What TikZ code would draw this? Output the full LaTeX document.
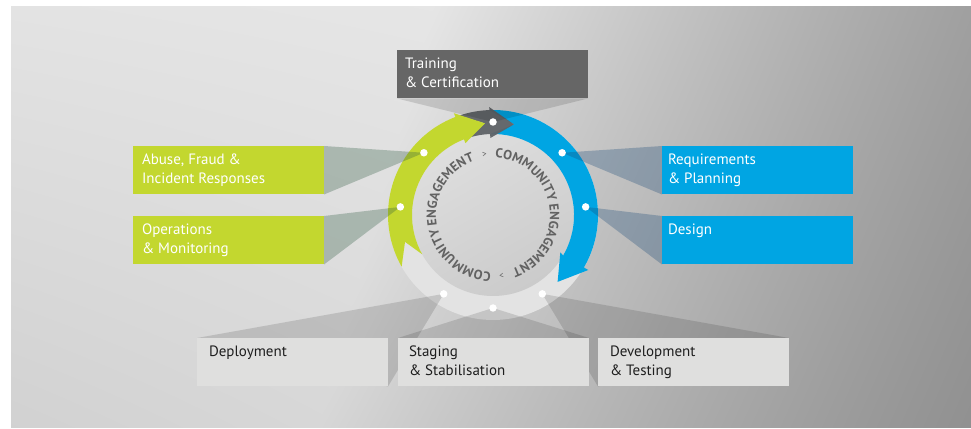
\documentclass[tikz,border=0pt]{standalone}
\usepackage{fontspec}
\setmainfont{PT Sans}
\usetikzlibrary{decorations.text,calc}
\pgfdeclarelayer{back}
\pgfdeclarelayer{mid}
\pgfsetlayers{back,mid,main}
\definecolor{trainc}{HTML}{666666}
\definecolor{greenc}{HTML}{C3D72F}
\definecolor{bluec}{HTML}{00A5E3}
\definecolor{lightbox}{HTML}{DFDFDE}
\definecolor{arrowgray}{HTML}{5F6367}
\definecolor{ringc}{HTML}{E3E3E3}
\definecolor{discA}{HTML}{DEDEDE}
\definecolor{discB}{HTML}{CBCBCB}
\definecolor{circtext}{HTML}{626262}
\definecolor{darktext}{HTML}{1E1E1E}
\definecolor{wgreenc}{RGB}{46,90,64}
\definecolor{wbluec}{RGB}{26,74,120}
\pgfdeclarefunctionalshading{bgfun}{\pgfpointorigin}{\pgfpoint{100bp}{100bp}}{}{
  100 div
  exch 100 div exch
  1 exch sub
  2 copy 0.12 mul add
  0.5 sub 2 mul
  dup 0 lt {pop 0} if
  dup 1 gt {pop 1} if
  1 exch sub dup sqrt mul
  1 exch sub
  0.41 mul 0.925 exch sub
  3 1 roll
  exch 1 exch sub mul 0.2 mul 1 exch sub
  mul
  dup dup
}
\newcommand\circfnt{\fontsize{13.2pt}{14pt}\selectfont\bfseries}
\begin{document}
\begin{tikzpicture}[x=1pt,y=1pt,
  box/.style={rectangle, inner sep=0pt, outer sep=0pt, minimum width=191pt, minimum height=48.5pt, anchor=north west},
  boxtext/.style={inner sep=0pt, outer sep=0pt, anchor=base west, align=left, font=\fontsize{15pt}{19pt}\selectfont},
  dot/.style={circle, fill=white, inner sep=0pt, minimum size=7.5pt},
  wgreen/.style={fill=wgreenc, fill opacity=0.3},
  wblue/.style={fill=wbluec, fill opacity=0.3},
  wgray/.style={fill=black, fill opacity=0.13},
  ringtext/.style={decorate, decoration={text along path, text align={fit to path}, text color=circtext}},
  chev/.style={text=circtext, font=\fontsize{9pt}{10pt}\selectfont, inner sep=0pt}
]
\useasboundingbox (0,0) rectangle (971,428);
\coordinate (C) at (493,213);
\begin{pgfonlayer}{back}
  \fill[white] (0,0) rectangle (971,428);
  \shade[shading=bgfun] (11,1) rectangle (971,421);
  \fill[ringc] (C) circle[radius=105pt];
  \shade[top color=discA, bottom color=discB, shading angle=30] (C) circle[radius=81pt];
  \begin{scope}[shift={(C)}]
    % blue arrow
    \fill[bluec] (92:105pt) arc[start angle=92, end angle=-30, radius=105pt]
      -- (-30:110pt) -- (-46:93pt) -- (-29:77pt) -- (-30:81pt)
      arc[start angle=-30, end angle=92, radius=81pt] -- (77:93pt) -- cycle;
    % gray arrow
    \fill[arrowgray, fill opacity=0.95] (109:105pt) arc[start angle=109, end angle=92, radius=105pt]
      -- (92:108pt) -- (77:93pt) -- (92:77pt) -- (92:81pt)
      arc[start angle=92, end angle=109, radius=81pt] -- (95:92pt) -- cycle;
    % green arrow
    \fill[greenc] (209.5:105pt) -- (197:92pt) -- (209:81pt)
      arc[start angle=209, end angle=111, radius=81pt]
      -- (111:77pt) -- (95:92pt) -- (111:109pt) -- (111:105pt)
      arc[start angle=111, end angle=209.5, radius=105pt] -- cycle;
    % ring text
    \path[ringtext, decoration={text={|\circfnt|COMMUNITY ENGAGEMENT}}]
      (88:57pt) arc[start angle=88, end angle=-71, radius=57pt];
    \path[ringtext, decoration={text={|\circfnt|COMMUNITY ENGAGEMENT}}]
      (268:57pt) arc[start angle=268, end angle=109, radius=57pt];
    \node[chev, rotate=8] (gt1) at (98:61pt) {>};
    \node[chev, rotate=188] (gt2) at (278:61pt) {>};
  \end{scope}
\end{pgfonlayer}

% boxes
\node[box, fill=trainc] (train) at (397,378) {};
\node[box, fill=greenc] (abuse) at (133,282) {};
\node[box, fill=greenc] (oper) at (133,212) {};
\node[box, fill=bluec] (req) at (662,282) {};
\node[box, fill=bluec] (design) at (662,212) {};
\node[box, fill=lightbox] (deploy) at (197,90) {};
\node[box, fill=lightbox] (stage) at (398,90) {};
\node[box, fill=lightbox] (devel) at (598,90) {};

% texts (base anchor = baseline of last line)
\node[boxtext, text=white] (traint) at ($(train.north west)+(8,-37.5)$) {Training\\\& Certification};
\node[boxtext, text=white] (abuset) at ($(abuse.north west)+(9,-37.5)$) {Abuse, Fraud \&\\Incident Responses};
\node[boxtext, text=white] (opert) at ($(oper.north west)+(9,-37.5)$) {Operations\\\& Monitoring};
\node[boxtext, text=white] (reqt) at ($(req.north west)+(6,-37.5)$) {Requirements\\\& Planning};
\node[boxtext, text=white] (designt) at ($(design.north west)+(6,-18.5)$) {Design};
\node[boxtext, text=darktext] (deployt) at ($(deploy.north west)+(12,-18.5)$) {Deployment};
\node[boxtext, text=darktext] (staget) at ($(stage.north west)+(11,-37.5)$) {Staging\\\& Stabilisation};
\node[boxtext, text=darktext] (develt) at ($(devel.north west)+(12,-37.5)$) {Development\\\& Testing};

% dots
\node[dot] (d90) at ($(C)+(90:93pt)$) {};
\node[dot] (d42) at ($(C)+(42:93pt)$) {};
\node[dot] (d5) at ($(C)+(5:93pt)$) {};
\node[dot] (d138) at ($(C)+(138:93pt)$) {};
\node[dot] (d175) at ($(C)+(175:93pt)$) {};
\node[dot] (d238) at ($(C)+(238:93pt)$) {};
\node[dot] (d270) at ($(C)+(270:93pt)$) {};
\node[dot] (d302) at ($(C)+(302:93pt)$) {};

% wedges
\begin{pgfonlayer}{mid}
  \fill[wgray] (d90.center) -- (train.south west) -- (train.south east) -- cycle;
  \fill[wgreen] (d138.center) -- (abuse.north east) -- (abuse.south east) -- cycle;
  \fill[wgreen] (d175.center) -- (oper.north east) -- (oper.south east) -- cycle;
  \fill[wblue] (d42.center) -- (req.north west) -- (req.south west) -- cycle;
  \fill[wblue] (d5.center) -- (design.north west) -- (design.south west) -- cycle;
  \fill[wgray] (d238.center) -- (deploy.north west) -- (deploy.south east) -- cycle;
  \fill[wgray] (d270.center) -- (stage.north west) -- (stage.north east) -- cycle;
  \fill[wgray] (d302.center) -- (devel.north east) -- (devel.south west) -- cycle;
\end{pgfonlayer}
\end{tikzpicture}
\end{document}
